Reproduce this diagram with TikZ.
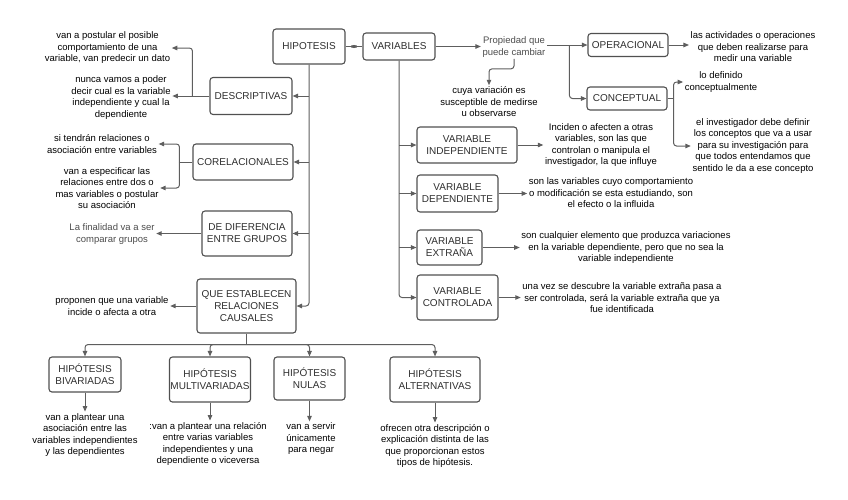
\documentclass[tikz,border=0pt]{standalone}
\usepackage{fontspec}
\setmainfont{Liberation Sans}
\usetikzlibrary{calc,arrows.meta,shapes.geometric}
\definecolor{linegray}{HTML}{5E5E5E}
\definecolor{boxgray}{HTML}{505050}
\definecolor{boxtext}{HTML}{2E2E2E}
\tikzset {>={Triangle[length=5.5pt,width=4.5pt]},
  box/.style={draw=boxgray,line width=1.1pt,rounded corners=3pt,align=center,inner sep=1pt,
    text=boxtext,font=\fontsize{10}{12}\selectfont},
  txt/.style={align=center,inner sep=1.5pt,text=black,font=\fontsize{9.5}{11.5}\selectfont},
  conn/.style={draw=linegray,line width=1pt,rounded corners=3pt},
  arr/.style={conn,->,>={Triangle[length=5.5pt,width=4.5pt]},color=linegray}}

\begin{document}
\begin{tikzpicture}[x=1pt,y=-1pt]
\useasboundingbox (0,0) rectangle (848,499);

\node[box,minimum width=72,minimum height=35] (hip) at (309,46.5) {HIPOTESIS};
\node[box,minimum width=72,minimum height=27] (var) at (399,46.5) {VARIABLES};
\node[box,minimum width=82,minimum height=37] (desc) at (251,96) {DESCRIPTIVAS};
\node[box,minimum width=100,minimum height=36] (corr) at (243,162) {CORELACIONALES};
\node[box,minimum width=90,minimum height=45] (dif) at (247,233.5) {DE DIFERENCIA\\ENTRE GRUPOS};
\node[box,minimum width=99,minimum height=54] (caus) at (246.5,306) {QUE ESTABLECEN\\RELACIONES\\CAUSALES};
\node[box,minimum width=72,minimum height=35] (biv) at (85,374.5) {HIPÓTESIS\\BIVARIADAS};
\node[box,minimum width=80,minimum height=45] (mul) at (210,379.5) {HIPÓTESIS\\MULTIVARIADAS};
\node[box,minimum width=71,minimum height=43] (nul) at (309.5,378.5) {HIPÓTESIS\\NULAS};
\node[box,minimum width=90,minimum height=45] (alt) at (435,379.5) {HIPÓTESIS\\ALTERNATIVAS};
\node[box,minimum width=80,minimum height=23] (oper) at (628,45) {OPERACIONAL};
\node[box,minimum width=80,minimum height=23] (conc) at (627,98.5) {CONCEPTUAL};
\node[box,minimum width=100,minimum height=36] (vind) at (467,145) {VARIABLE\\INDEPENDIENTE};
\node[box,minimum width=81,minimum height=37] (vdep) at (457.5,193.5) {VARIABLE\\DEPENDIENTE};
\node[box,minimum width=65,minimum height=35] (vext) at (449.5,247.5) {VARIABLE\\EXTRAÑA};
\node[box,minimum width=81,minimum height=45] (vcon) at (457.5,297.5) {VARIABLE\\CONTROLADA};

\node[txt] (tpost) at (107.5,48) {van a postular el posible\\comportamiento de una\\variable, van predecir un dato};
\node[txt] (tnunca) at (121,97.5) {nunca vamos a poder\\decir cual es la variable\\independiente y cual la\\dependiente};
\node[txt] (trel) at (102,144) {si tendrán relaciones o\\asociación entre variables};
\node[txt] (tesp) at (107,188) {van a especificar las\\relaciones entre dos o\\mas variables o postular\\su asociación};
\node[txt,text=black!70] (tfin) at (112,234) {La finalidad va a ser\\comparar grupos};
\node[txt] (tprop) at (112,306) {proponen que una variable\\incide o afecta a otra};
\node[txt] (tbiv) at (85,435) {van a plantear una\\asociación entre las\\variables independientes\\y las dependientes};
\node[txt] (tmul) at (208,444) {:van a plantear una relación\\entre varias variables\\independientes y una\\dependiente o viceversa};
\node[txt] (tnul) at (311,439) {van a servir\\únicamente\\para negar};
\node[txt] (talt) at (435,446) {ofrecen otra descripción o\\explicación distinta de las\\que proporcionan estos\\tipos de hipótesis.};
\node[txt,text=black!70] (tcam) at (514,47) {Propiedad que\\puede cambiar};
\node[txt] (tcuya) at (489,102) {cuya variación es\\susceptible de medirse\\u observarse};
\node[txt] (tact) at (753,47) {las actividades o operaciones\\que deben realizarse para\\medir una variable};
\node[txt] (tdef) at (721,82) {lo definido\\conceptualmente};
\node[txt] (tinv) at (753,146) {el investigador debe definir\\los conceptos que va a usar\\para su investigación para\\que todos entendamos que\\sentido le da a ese concepto};
\node[txt] (tind) at (601,145) {Inciden o afecten a otras\\variables, son las que\\controlan o manipula el\\investigador, la que influye};
\node[txt] (tdep) at (611,193) {son las variables cuyo comportamiento\\o modificación se esta estudiando, son\\el efecto o la influida};
\node[txt] (text) at (626,248) {son cualquier elemento que produzca variaciones\\en la variable dependiente, pero que no sea la\\variable independiente};
\node[txt] (tcon) at (622,298) {una vez se descubre la variable extraña pasa a\\ser controlada, será la variable extraña que ya\\fue identificada};

\draw[conn] (hip.east) -- (var.west)
  node[midway,diamond,fill=linegray,inner sep=0,minimum width=10,minimum height=5] (dm) {};

\draw[arr] (hip.south) |- (caus.east);
\draw[arr] (hip.south |- desc.east) -- (desc.east);
\draw[arr] (hip.south |- corr.east) -- (corr.east);
\draw[arr] (hip.south |- dif.east) -- (dif.east);

\coordinate (dj) at ($(desc.west)+(-17,0)$);
\draw[arr] (desc.west) -- (tnunca.east |- desc.west);
\draw[arr] (dj) |- (tpost.east);
\coordinate (cj) at ($(corr.west)+(-13,0)$);
\draw[conn] (corr.west) -- (cj);
\draw[arr] (cj) |- (trel.east);
\draw[arr] (cj) |- (tesp.east);
\draw[arr] (dif.west) -- (tfin.east |- dif.west);
\draw[arr] (caus.west) -- (tprop.east |- caus.west);

\coordinate (bj) at ($(caus.south)+(0,11)$);
\draw[conn] (caus.south) -- (bj);
\draw[arr] (bj) -| (biv.north);
\draw[arr] (bj) -| (mul.north);
\draw[arr] (bj) -| (nul.north);
\draw[arr] (bj) -| (alt.north);
\draw[arr] (biv.south) -- (biv.south |- tbiv.north);
\draw[arr] (mul.south) -- (mul.south |- tmul.north);
\draw[arr] (nul.south) -- (nul.south |- tnul.north);
\draw[arr] (alt.south) -- (alt.south |- talt.north);

\draw[arr] (var.east) -- (tcam.west |- var.east);
\draw[arr] (tcam.south) -- ++(0,10) -| (tcuya.north);
\coordinate (pj) at ($(oper.west)+(-18,0)$);
\draw[arr] (tcam.east |- oper.west) -- (oper.west);
\draw[arr] (pj) |- (conc.west);
\draw[arr] (oper.east) -- (tact.west |- oper.east);
\coordinate (kj) at ($(conc.east)+(6,0)$);
\draw[conn] (conc.east) -- (kj);
\draw[arr] (kj) |- (tdef.west);
\draw[arr] (kj) |- (tinv.west);

\draw[arr] (var.south) |- (vcon.west);
\draw[arr] (var.south |- vind.west) -- (vind.west);
\draw[arr] (var.south |- vdep.west) -- (vdep.west);
\draw[arr] (var.south |- vext.west) -- (vext.west);
\draw[arr] (vind.east) -- (tind.west |- vind.east);
\draw[arr] (vdep.east) -- (tdep.west |- vdep.east);
\draw[arr] (vext.east) -- (text.west |- vext.east);
\draw[arr] (vcon.east) -- (tcon.west |- vcon.east);
\end{tikzpicture}
\end{document}
